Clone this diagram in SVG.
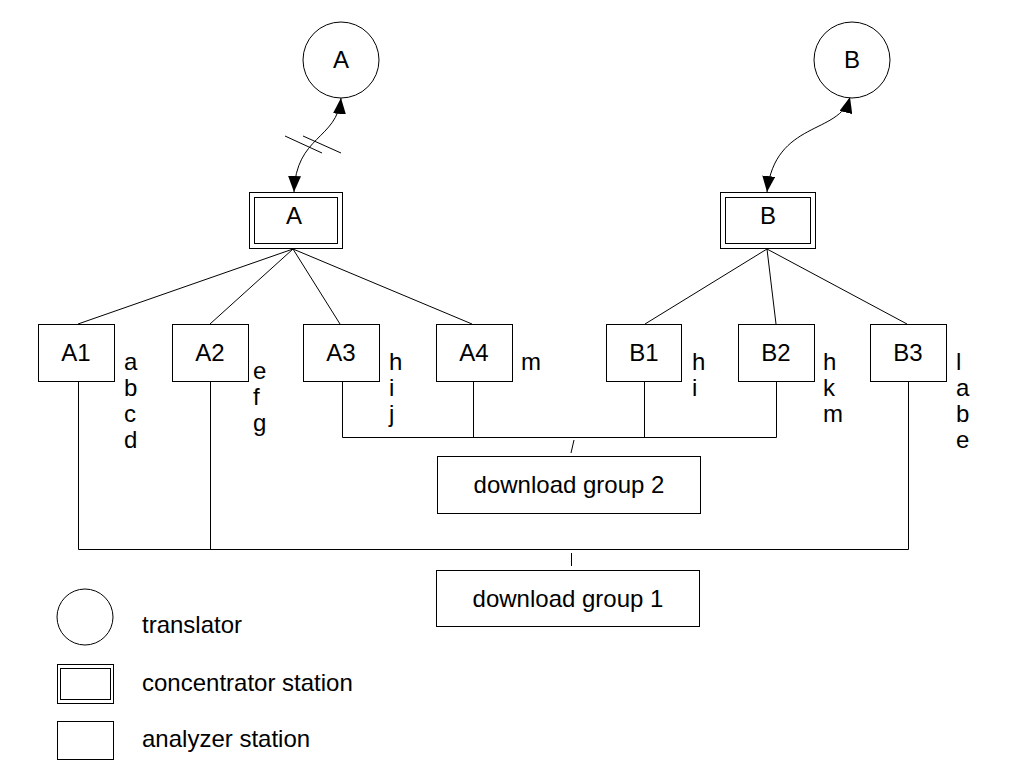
<svg xmlns="http://www.w3.org/2000/svg" width="1023" height="781" viewBox="0 0 1023 781">
<defs>
<style>
.s{fill:#fff;stroke:#000;stroke-width:1}
.l{fill:none;stroke:#000;stroke-width:1}
text{font-family:"Liberation Sans",Arial,sans-serif;font-size:24px;fill:#000}
.c{text-anchor:middle}
</style>
<marker id="ah" markerUnits="userSpaceOnUse" markerWidth="17" markerHeight="13" refX="16" refY="6.5" orient="auto-start-reverse">
<path d="M0,0 L16,6.5 L0,13 z" fill="#000"/>
</marker>
</defs>
<rect width="1023" height="781" fill="#fff"/>
<g id="connectors">
<path class="l" d="M341,98 C337,140 296,135 294,192" marker-start="url(#ah)" marker-end="url(#ah)"/>
<line class="l" x1="285" y1="136" x2="322" y2="153"/>
<line class="l" x1="303" y1="136" x2="341" y2="153"/>
<path class="l" d="M850,97 C840,135 775,120 767,192" marker-start="url(#ah)" marker-end="url(#ah)"/>
<line class="l" x1="293" y1="249" x2="78" y2="324"/>
<line class="l" x1="293" y1="249" x2="210" y2="324"/>
<line class="l" x1="293" y1="249" x2="340" y2="324"/>
<line class="l" x1="293" y1="249" x2="472" y2="324"/>
<line class="l" x1="767" y1="249" x2="645" y2="324"/>
<line class="l" x1="767" y1="249" x2="776" y2="324"/>
<line class="l" x1="767" y1="249" x2="907" y2="324"/>
<path class="l" d="M78.5,381 V549.5 H908.5 V381 M210.5,381 V549.5"/>
<line class="l" x1="571.5" y1="553" x2="571.5" y2="566"/>
<path class="l" d="M342.5,381 V437.5 H776.5 V381 M473.5,381 V437.5 M644.5,381 V437.5"/>
<line class="l" x1="574" y1="440" x2="571" y2="453"/>
</g>
<g id="translatorA"><circle class="s" cx="341" cy="60" r="38"/><text class="c" x="341" y="68">A</text></g>
<g id="translatorB"><circle class="s" cx="852" cy="60" r="38"/><text class="c" x="852" y="68">B</text></g>
<g id="concA"><rect class="s" x="249.5" y="192.5" width="93" height="56"/><rect class="s" x="254.5" y="197.5" width="83" height="46"/><text class="c" x="294" y="224">A</text></g>
<g id="concB"><rect class="s" x="720.5" y="192.5" width="95" height="56"/><rect class="s" x="725.5" y="197.5" width="85" height="46"/><text class="c" x="768" y="224">B</text></g>
<g id="A1"><rect class="s" x="38.5" y="324.5" width="76" height="57"/><text class="c" x="76" y="361">A1</text>
<text x="124" y="370">a</text><text x="124" y="396">b</text><text x="124" y="422">c</text><text x="124" y="448">d</text></g>
<g id="A2"><rect class="s" x="172.5" y="324.5" width="76" height="57"/><text class="c" x="210" y="361">A2</text>
<text x="253" y="379">e</text><text x="253" y="405">f</text><text x="253" y="431">g</text></g>
<g id="A3"><rect class="s" x="303.5" y="324.5" width="76" height="57"/><text class="c" x="341" y="361">A3</text>
<text x="389" y="370">h</text><text x="389" y="396">i</text><text x="389" y="422">j</text></g>
<g id="A4"><rect class="s" x="436.5" y="324.5" width="76" height="57"/><text class="c" x="474" y="361">A4</text>
<text x="521" y="370">m</text></g>
<g id="B1"><rect class="s" x="606.5" y="324.5" width="75" height="57"/><text class="c" x="644" y="361">B1</text>
<text x="692" y="370">h</text><text x="692" y="396">i</text></g>
<g id="B2"><rect class="s" x="738.5" y="324.5" width="76" height="57"/><text class="c" x="776" y="361">B2</text>
<text x="823" y="370">h</text><text x="823" y="396">k</text><text x="823" y="422">m</text></g>
<g id="B3"><rect class="s" x="870.5" y="324.5" width="76" height="57"/><text class="c" x="908" y="361">B3</text>
<text x="956" y="370">l</text><text x="956" y="396">a</text><text x="956" y="422">b</text><text x="956" y="448">e</text></g>
<g id="dg2"><rect class="s" x="437.5" y="456.5" width="263" height="57"/><text class="c" x="569" y="493">download group 2</text></g>
<g id="dg1"><rect class="s" x="436.5" y="570.5" width="263" height="56"/><text class="c" x="568" y="607">download group 1</text></g>
<g id="legend">
<circle class="s" cx="85" cy="617" r="28"/><text x="142" y="633">translator</text>
<rect class="s" x="57.5" y="664.5" width="56" height="39"/><rect class="s" x="60.5" y="668.5" width="50" height="31"/><text x="142" y="691">concentrator station</text>
<rect class="s" x="57.5" y="721.5" width="56" height="38"/><text x="142" y="747">analyzer station</text>
</g>
</svg>
